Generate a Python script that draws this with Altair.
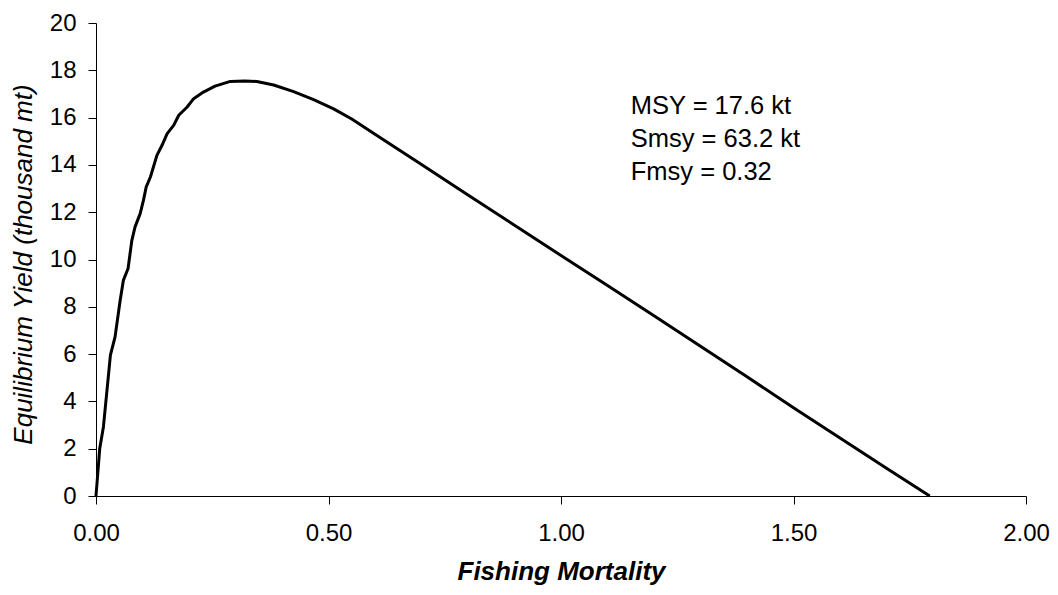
import altair as alt
import pandas as pd

# Equilibrium yield curve
F_vals = [0.000, 0.008, 0.016, 0.031, 0.041, 0.052, 0.059, 0.069, 0.077, 0.084,
          0.095, 0.102, 0.108, 0.117, 0.131, 0.142, 0.153, 0.167, 0.178, 0.196,
          0.210, 0.231, 0.256, 0.289, 0.320, 0.346, 0.382, 0.425, 0.468, 0.511,
          0.550, 0.600, 0.700, 0.800, 0.900, 1.000, 1.100, 1.200, 1.300, 1.400,
          1.500, 1.600, 1.700, 1.793]
Y_vals = [0.00, 2.00, 2.93, 5.96, 6.73, 8.28, 9.13, 9.62, 10.80, 11.38,
          11.94, 12.50, 13.07, 13.49, 14.40, 14.83, 15.32, 15.67, 16.10, 16.45,
          16.80, 17.08, 17.33, 17.53, 17.55, 17.53, 17.38, 17.10, 16.76, 16.37,
          15.94, 15.30, 14.02, 12.73, 11.45, 10.17, 8.90, 7.62, 6.33, 5.04,
          3.73, 2.45, 1.17, 0.00]

x_ticks = [0.0, 0.5, 1.0, 1.5, 2.0]
y_ticks = [0, 2, 4, 6, 8, 10, 12, 14, 16, 18, 20]

ann_text = ["MSY = 17.6 kt", "Smsy = 63.2 kt", "Fmsy = 0.32"]
ann_x = [1.150, 1.150, 1.150]
ann_y = [16.17, 14.77, 13.38]

FONT = "Liberation Sans"

curve = pd.DataFrame({"F": F_vals, "Y": Y_vals})
ann = pd.DataFrame({"t": ann_text, "x": ann_x, "y": ann_y})

xscale = alt.Scale(domain=[0, 2], nice=False, zero=True)
yscale = alt.Scale(domain=[0, 20], nice=False)

line = alt.Chart(curve).mark_line(color="black", strokeWidth=3, strokeJoin="round").encode(
    x=alt.X("F:Q", scale=xscale,
            axis=alt.Axis(values=x_ticks, format=".2f", title="Fishing Mortality",
                          titleFontStyle="italic", titleFontWeight="bold",
                          titleFontSize=26, titlePadding=13, labelPadding=17,
                          labelFlush=False)),
    y=alt.Y("Y:Q", scale=yscale,
            axis=alt.Axis(values=y_ticks, format="d",
                          title="Equilibrium Yield (thousand mt)",
                          titleFontStyle="italic", titleFontWeight="normal",
                          titleFontSize=26, titlePadding=13, labelPadding=12,
                          labelFlush=False, titleY=241)),
)

text = alt.Chart(ann).mark_text(align="left", baseline="alphabetic", fontSize=25.5,
                                font=FONT, color="black").encode(
    x=alt.X("x:Q", scale=xscale),
    y=alt.Y("y:Q", scale=yscale),
    text="t:N",
)

chart = (line + text).properties(
    width=930, height=473,
    background="white",
    autosize=alt.AutoSizeParams(type="none"),
    padding={"left": 88, "top": 15, "right": 24, "bottom": 91},
).configure_view(stroke=None).configure_axis(
    grid=False, domainColor="black", domainWidth=1, tickColor="black",
    tickSize=8, tickWidth=1, labelFont=FONT, labelFontSize=24, labelColor="black",
    titleFont=FONT, titleColor="black",
)

chart.save("out.html", embed_options={"renderer": "svg", "actions": False})
